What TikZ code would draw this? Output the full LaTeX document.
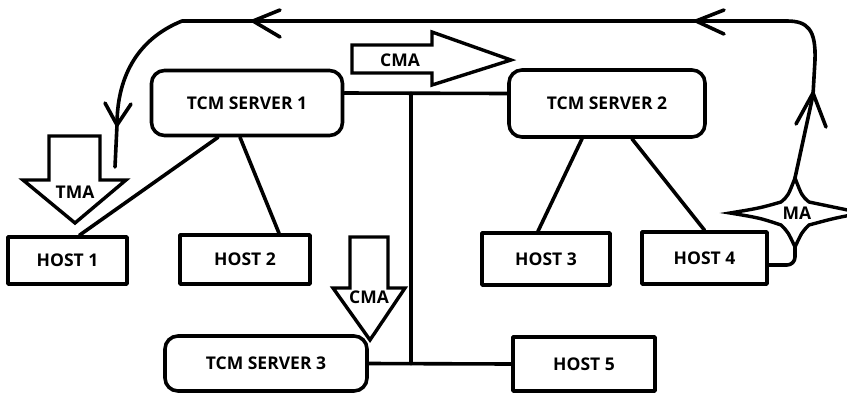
\documentclass[tikz,border=0pt]{standalone}
\usepackage{fontspec}
\setmainfont{Open Sans}
\begin{document}
\begin{tikzpicture}[x=1pt,y=-1pt,
  line width=3.6pt, line join=round, line cap=round,
  lbl/.style={font=\fontsize{17.5}{19}\selectfont\bfseries, inner sep=0pt},
  server/.style={draw, rounded corners=13pt, line width=3.6pt, lbl},
  host/.style={draw, line width=3.6pt, lbl},
  blockarrow/.style={draw, line width=3.4pt, fill=white, line join=miter}
]
\useasboundingbox (0,0) rectangle (847,392);

% servers
\node[server, minimum width=191pt, minimum height=65pt] (s1) at (247,103) {TCM SERVER 1};
\node[server, minimum width=196pt, minimum height=67pt] (s2) at (607,103.5) {TCM SERVER 2};
\node[server, minimum width=202pt, minimum height=55pt] (s3) at (266,363.5) {TCM SERVER 3};

% hosts
\node[host, minimum width=119pt, minimum height=47pt] (h1) at (67.5,260.5) {HOST 1};
\node[host, minimum width=130pt, minimum height=49pt] (h2) at (245,259.5) {HOST 2};
\node[host, minimum width=128pt, minimum height=52pt] (h3) at (546,259) {HOST 3};
\node[host, minimum width=125pt, minimum height=52pt] (h4) at (704.5,258) {HOST 4};
\node[host, minimum width=142pt, minimum height=54pt] (h5) at (584,364) {HOST 5};

% bus
\coordinate (bt) at (411,93.5);
\coordinate (bb) at (411,363.5);
\draw ([yshift=10pt]s1.east) -- ([yshift=10pt]s2.west);
\draw (bt) -- (bb);
\draw (s3.east) -- (h5.west);

% server-host links
\draw ([xshift=-29pt]s1.south) -- ([xshift=12pt]h1.north);
\draw ([xshift=-7pt]s1.south) -- ([xshift=34pt]h2.north);
\draw ([xshift=-25pt]s2.south) -- ([xshift=-8pt]h3.north);
\draw ([xshift=25pt]s2.south) -- ([xshift=0pt]h4.north);

% CMA right arrow
\draw[blockarrow] (352,45) -- (432,45) -- (432,32) -- (511,60) -- (432,85) -- (432,73) -- (352,73) -- cycle;
\node[lbl] (cma1) at (400,60) {CMA};

% CMA down arrow
\draw[blockarrow] (350,237) -- (388,237) -- (388,288) -- (405,288) -- (370,340) -- (333,288) -- (350,288) -- cycle;
\node[lbl] (cma2) at (369,297) {CMA};

% TMA down arrow
\draw[blockarrow] (49,136) -- (100,136) -- (100,180) -- (126,180) -- (75,223) -- (23,180) -- (49,180) -- cycle;
\node[lbl] (tma) at (75,192) {TMA};

% MA star
\draw[blockarrow] (795,178) .. controls (788,196) .. (781,202) .. controls (760,208) .. (730,213)
  .. controls (760,218) .. (781,225) .. controls (788,232) .. (795,247)
  .. controls (802,232) .. (809,225) .. controls (835,218) .. (862,213)
  .. controls (835,208) .. (809,202) .. controls (802,196) .. cycle;
\node[lbl] (ma) at (797,213) {MA};

% loop
\coordinate (lend) at (115,167);
\draw[rounded corners=8pt] ([yshift=-7pt]h4.east) -- (795,265) -- (795,247);
\draw (795,178) -- (813,95) -- (815,60) .. controls (816,30) and (808,21) .. (787,21)
      -- (182,21) .. controls (135,40) and (117,80) .. (117,125) -- (lend);

% chevrons
\draw (280,10) -- (253,21) -- (280,37);
\draw (724,10) -- (696,21) -- (724,34);
\draw (105,103) -- (117,125) -- (131,104);
\draw (796,124) -- (813,93) -- (826,127);
\end{tikzpicture}
\end{document}
